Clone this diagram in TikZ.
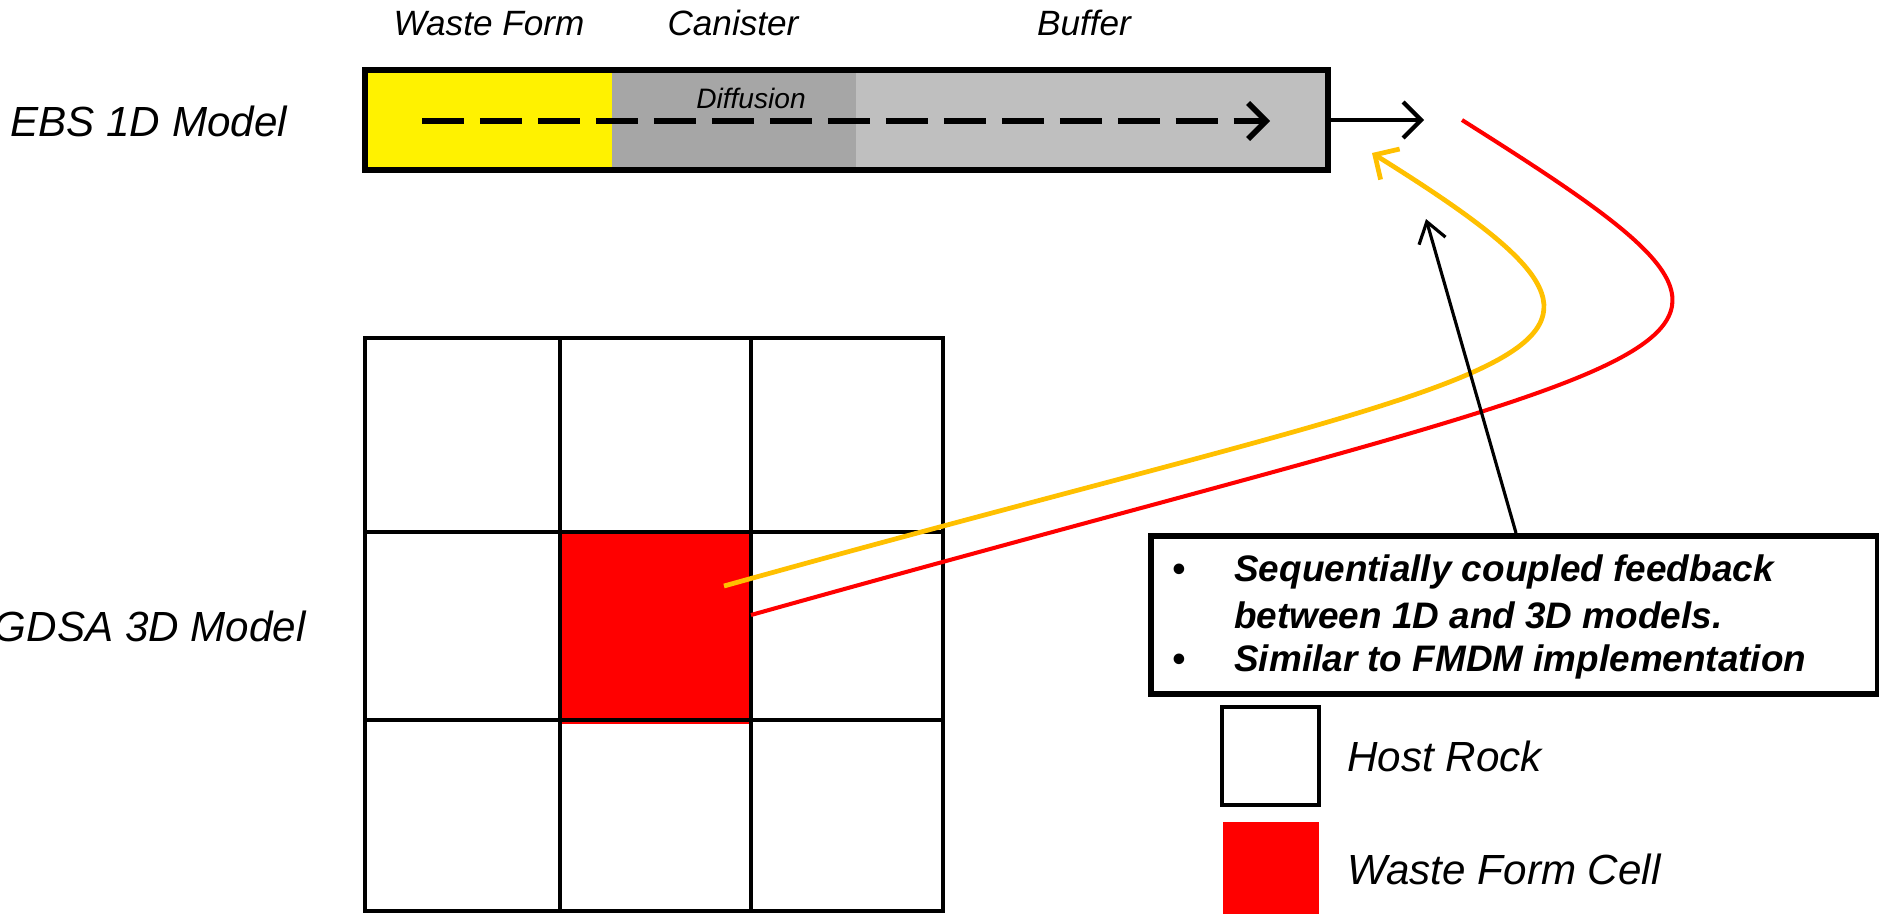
\documentclass[tikz,border=0pt]{standalone}
\usepackage{fontspec}
\setmainfont{Liberation Sans}
\usetikzlibrary{arrows.meta}
\definecolor{canister}{HTML}{A6A6A6}
\definecolor{buffer}{HTML}{BFBFBF}
\definecolor{amber}{HTML}{FFC000}

\begin{document}
\begin{tikzpicture}[x=0.02cm,y=-0.02cm,
  lbl/.style={inner sep=0pt,font=\fontsize{24}{28}\selectfont\itshape},
  hdr/.style={inner sep=0pt,font=\fontsize{20}{24}\selectfont\itshape},
  notetxt/.style={inner sep=0pt,anchor=base west,font=\fontsize{21}{25}\selectfont\bfseries\itshape},
  barb/.style={-{Straight Barb[length=3.6mm,width=7.2mm]}},
  cell/.style={line width=2.8pt}]
\useasboundingbox (0,0) rectangle (1879,914);
\clip (0,0) rectangle (1879,914);

\node[hdr,anchor=base] (wflbl) at (489,35) {Waste Form};
\node[hdr,anchor=base] (canlbl) at (733,35) {Canister};
\node[hdr,anchor=base] (buflbl) at (1084,35) {Buffer};
\node[lbl,anchor=base west] (ebslbl) at (10,136) {EBS 1D Model};

\fill[yellow] (365,70) rectangle (612,170);
\fill[canister] (612,70) rectangle (856,170);
\fill[buffer] (856,70) rectangle (1328,170);
\draw[line width=3.4pt] (365,70) rectangle (1328,170);
\node[inner sep=0pt,anchor=base,font=\fontsize{16}{19}\selectfont\itshape] (difflbl) at (751,108) {Diffusion};

\coordinate (dstart) at (422,121);
\coordinate (dend) at (1270,121);
\draw[barb,line width=3.2pt,dash pattern=on 24pt off 9pt] (dstart) -- (dend);
\coordinate (barout) at (1328,120);
\coordinate (ebsout) at (1424,120);
\draw[barb,line width=2.4pt] (barout) -- (ebsout);

\fill[red] (560,532) rectangle (751,724);
\draw[cell] (365,338) rectangle (943,911);
\foreach \x in {560,751} \draw[cell] (\x,338) -- (\x,911);
\foreach \y in {532,720} \draw[cell] (365,\y) -- (943,\y);
\node[lbl,anchor=base east] (gdsalbl) at (306,641) {GDSA 3D Model};

\coordinate (wfcell) at (724,586);
\coordinate (wfedge) at (751,615);
\coordinate (fbin) at (1372,153);
\coordinate (redend) at (1462,120);
\draw[red,line width=2.3pt] (wfedge) .. controls (1750,335) and (1850,365) .. (redend);
\draw[amber,barb,line width=2.7pt] (wfcell) .. controls (1550,355) and (1720,370) .. (fbin);

\node[draw,line width=3.4pt,anchor=north west,minimum width=14.54cm,minimum height=3.16cm] (note) at (1148,533) {};
\node[notetxt] (bul1) at (1172,581) {•};
\node[notetxt] (line1) at (1234,581) {Sequentially coupled feedback};
\node[notetxt] (line2) at (1234,628) {between 1D and 3D models.};
\node[notetxt] (bul2) at (1172,671) {•};
\node[notetxt] (line3) at (1234,671) {Similar to FMDM implementation};

\coordinate (fbtail) at (1516,533);
\coordinate (fbtip) at (1426,219);
\draw[-{Straight Barb[length=4mm,width=5.5mm]},line width=1.8pt] (fbtail) -- (fbtip);

\draw[line width=2.6pt] (1222,707) rectangle (1319,805);
\fill[red] (1223,822) rectangle (1319,914);
\node[lbl,anchor=base west] (hostlbl) at (1347,771) {Host Rock};
\node[lbl,anchor=base west] (celllbl) at (1347,884) {Waste Form Cell};
\end{tikzpicture}
\end{document}
